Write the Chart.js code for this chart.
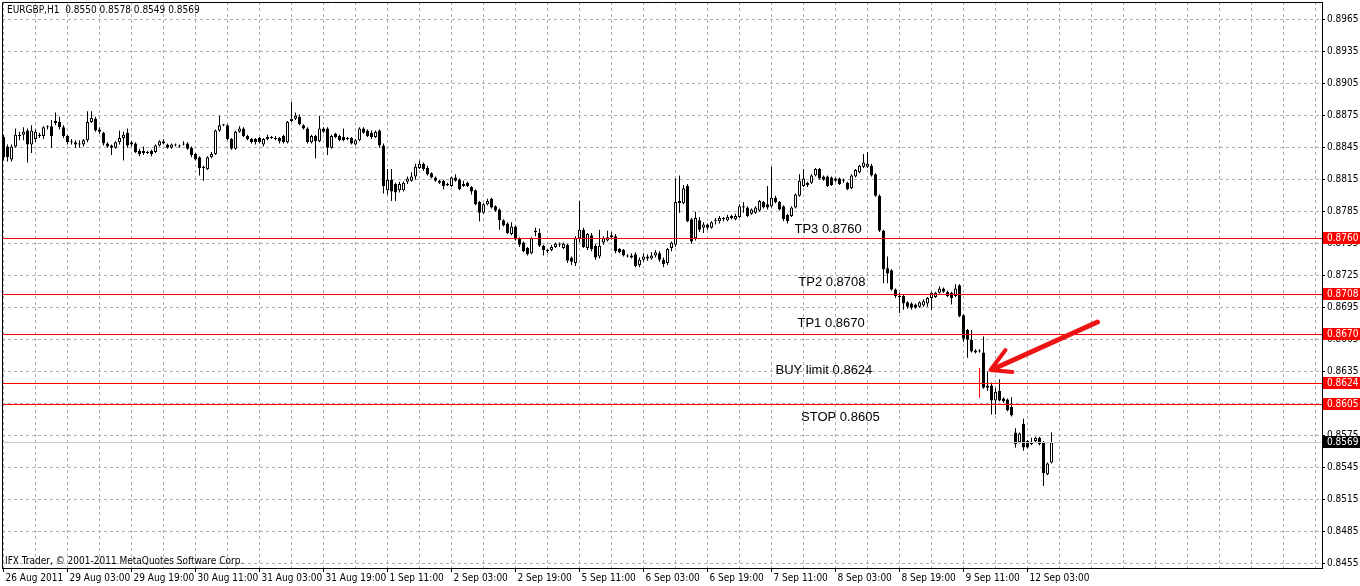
<!DOCTYPE html>
<html>
<head>
<meta charset="utf-8">
<title>EURGBP H1</title>
<script src="https://cdn.jsdelivr.net/npm/chart.js@4.4.0/dist/chart.umd.min.js"></script>
<style>
  html, body { margin: 0; padding: 0; background: #fff; }
  canvas { display: block; }
</style>
</head>
<body>
<canvas id="chart" width="1360" height="586"></canvas>
<script>
// header / footer texts
const symbolTitle = "EURGBP,H1  0.8550 0.8578 0.8549 0.8569";
const copyright = "IFX Trader, \u00a9 2001-2011 MetaQuotes Software Corp.";

// time axis labels, one every 16 bars starting at bar 0
const xLabels = ["26 Aug 2011","29 Aug 03:00","29 Aug 19:00","30 Aug 11:00","31 Aug 03:00","31 Aug 19:00",
  "1 Sep 11:00","2 Sep 03:00","2 Sep 19:00","5 Sep 11:00","6 Sep 03:00","6 Sep 19:00","7 Sep 11:00",
  "8 Sep 03:00","8 Sep 19:00","9 Sep 11:00","12 Sep 03:00"];

// price axis ticks
const priceTicks = [0.8965,0.8935,0.8905,0.8875,0.8845,0.8815,0.8785,0.8755,0.8725,0.8695,
  0.8665,0.8635,0.8605,0.8575,0.8545,0.8515,0.8485,0.8455];

// H1 candles
const opens = [
  .8855,.8846,.8834,.8846,.8856,.8857,.8861,.8848,.8853,.8856,
  .8856,.8864,.8865,.8868,.8869,.8864,.8856,.8851,.8850,.8848,
  .8848,.8852,.8869,.8872,.8862,.8859,.8849,.8847,.8845,.8850,
  .8854,.8859,.8850,.8849,.8842,.8842,.8841,.8842,.8841,.8847,
  .8851,.8848,.8845,.8848,.8847,.8848,.8849,.8845,.8839,.8836,
  .8826,.8825,.8836,.8839,.8861,.8866,.8866,.8853,.8844,.8860,
  .8863,.8856,.8853,.8853,.8854,.8848,.8853,.8854,.8854,.8854,
  .8856,.8850,.8870,.8872,.8874,.8866,.8863,.8850,.8856,.8851,
  .8863,.8863,.8845,.8858,.8856,.8855,.8854,.8854,.8848,.8852,
  .8863,.8861,.8859,.8855,.8861,.8847,.8805,.8815,.8811,.8805,
  .8805,.8813,.8814,.8818,.8826,.8830,.8826,.8821,.8817,.8814,
  .8814,.8811,.8809,.8817,.8815,.8811,.8812,.8808,.8805,.8794,
  .8784,.8792,.8797,.8790,.8787,.8777,.8774,.8764,.8771,.8760,
  .8756,.8751,.8746,.8766,.8765,.8753,.8749,.8749,.8752,.8754,
  .8751,.8754,.8742,.8737,.8760,.8768,.8751,.8763,.8753,.8743,
  .8756,.8758,.8761,.8762,.8750,.8749,.8744,.8744,.8745,.8735,
  .8740,.8743,.8741,.8744,.8746,.8740,.8737,.8751,.8754,.8795,
  .8793,.8809,.8778,.8760,.8777,.8770,.8773,.8770,.8776,.8776,
  .8778,.8777,.8781,.8778,.8780,.8789,.8789,.8783,.8784,.8786,
  .8794,.8792,.8790,.8798,.8794,.8790,.8782,.8781,.8789,.8800,
  .8809,.8812,.8812,.8819,.8825,.8818,.8818,.8817,.8816,.8816,
  .8815,.8812,.8807,.8818,.8822,.8827,.8827,.8828,.8820,.8800,
  .8767,.8732,.8730,.8712,.8705,.8706,.8700,.8699,.8698,.8696,
  .8697,.8699,.8704,.8705,.8709,.8713,.8710,.8709,.8706,.8716,
  .8688,.8674,.8665,.8655,.8655,.8653,.8620,.8622,.8608,.8617,
  .8610,.8609,.8602,.8578,.8569,.8586,.8570,.8569,.8570,.8573,
  .8569,.8539,.8550];
const highs = [
  .8857,.8848,.8848,.8863,.8860,.8864,.8863,.8866,.8862,.8859,
  .8865,.8866,.8871,.8878,.8874,.8866,.8857,.8853,.8852,.8852,
  .8853,.8879,.8879,.8874,.8864,.8860,.8850,.8848,.8851,.8861,
  .8860,.8863,.8851,.8850,.8844,.8846,.8842,.8843,.8848,.8852,
  .8853,.8849,.8849,.8849,.8848,.8851,.8850,.8846,.8840,.8837,
  .8828,.8837,.8841,.8862,.8875,.8867,.8867,.8854,.8861,.8865,
  .8864,.8857,.8854,.8854,.8855,.8854,.8857,.8856,.8856,.8855,
  .8857,.8870,.8888,.8878,.8876,.8867,.8864,.8857,.8857,.8875,
  .8864,.8864,.8857,.8859,.8857,.8863,.8855,.8855,.8853,.8864,
  .8864,.8862,.8861,.8861,.8862,.8849,.8825,.8825,.8812,.8813,
  .8813,.8818,.8822,.8830,.8833,.8831,.8828,.8822,.8818,.8815,
  .8815,.8812,.8818,.8820,.8816,.8814,.8813,.8809,.8806,.8795,
  .8793,.8797,.8798,.8791,.8788,.8778,.8775,.8775,.8772,.8761,
  .8757,.8752,.8761,.8770,.8769,.8754,.8750,.8754,.8756,.8756,
  .8756,.8755,.8743,.8762,.8795,.8770,.8765,.8765,.8755,.8768,
  .8762,.8767,.8766,.8764,.8751,.8750,.8745,.8746,.8747,.8742,
  .8746,.8745,.8747,.8749,.8748,.8742,.8751,.8757,.8816,.8819,
  .8810,.8811,.8779,.8785,.8780,.8775,.8774,.8776,.8779,.8781,
  .8780,.8782,.8782,.8783,.8792,.8794,.8790,.8788,.8790,.8796,
  .8795,.8809,.8827,.8800,.8795,.8791,.8783,.8790,.8802,.8820,
  .8825,.8813,.8820,.8826,.8826,.8819,.8819,.8818,.8817,.8817,
  .8816,.8813,.8820,.8825,.8829,.8839,.8841,.8830,.8821,.8801,
  .8768,.8743,.8731,.8713,.8709,.8707,.8701,.8700,.8699,.8701,
  .8703,.8705,.8710,.8710,.8715,.8714,.8711,.8710,.8717,.8717,
  .8689,.8675,.8674,.8656,.8656,.8668,.8635,.8625,.8620,.8628,
  .8611,.8610,.8611,.8582,.8578,.8591,.8571,.8573,.8574,.8574,
  .8570,.8550,.8578];
const lows = [
  .8833,.8832,.8832,.8845,.8852,.8852,.8831,.8840,.8850,.8854,
  .8853,.8862,.8845,.8866,.8862,.8854,.8848,.8848,.8845,.8845,
  .8846,.8850,.8868,.8860,.8858,.8847,.8845,.8838,.8844,.8848,
  .8833,.8845,.8846,.8840,.8837,.8838,.8839,.8837,.8840,.8846,
  .8848,.8844,.8844,.8846,.8845,.8847,.8843,.8836,.8833,.8819,
  .8814,.8824,.8835,.8838,.8860,.8865,.8852,.8843,.8843,.8859,
  .8855,.8852,.8849,.8848,.8849,.8846,.8852,.8853,.8852,.8849,
  .8849,.8849,.8869,.8871,.8866,.8862,.8849,.8849,.8835,.8850,
  .8859,.8838,.8844,.8854,.8851,.8851,.8852,.8848,.8847,.8851,
  .8858,.8855,.8853,.8854,.8845,.8802,.8801,.8795,.8795,.8803,
  .8804,.8811,.8813,.8815,.8825,.8823,.8819,.8816,.8813,.8811,
  .8806,.8809,.8808,.8813,.8805,.8808,.8808,.8801,.8791,.8776,
  .8783,.8791,.8788,.8785,.8768,.8771,.8764,.8763,.8758,.8752,
  .8747,.8744,.8745,.8762,.8752,.8744,.8746,.8748,.8751,.8752,
  .8750,.8737,.8735,.8734,.8756,.8751,.8749,.8748,.8740,.8741,
  .8754,.8757,.8759,.8746,.8746,.8743,.8742,.8741,.8733,.8733,
  .8738,.8739,.8740,.8742,.8738,.8733,.8735,.8748,.8752,.8784,
  .8792,.8775,.8755,.8758,.8766,.8765,.8768,.8769,.8773,.8774,
  .8776,.8776,.8778,.8777,.8779,.8784,.8780,.8782,.8783,.8785,
  .8788,.8787,.8789,.8793,.8786,.8776,.8774,.8780,.8788,.8799,
  .8808,.8808,.8811,.8818,.8815,.8814,.8808,.8809,.8813,.8810,
  .8812,.8805,.8806,.8817,.8821,.8826,.8826,.8818,.8799,.8766,
  .8718,.8718,.8711,.8704,.8690,.8693,.8694,.8693,.8694,.8695,
  .8696,.8696,.8693,.8704,.8708,.8709,.8705,.8698,.8705,.8686,
  .8663,.8648,.8653,.8652,.8653,.8619,.8617,.8595,.8595,.8607,
  .8606,.8598,.8593,.8564,.8568,.8561,.8563,.8566,.8569,.8566,
  .8528,.8538,.8549];
const closes = [
  .8836,.8836,.8846,.8857,.8857,.8860,.8848,.8861,.8860,.8857,
  .8864,.8865,.8856,.8870,.8864,.8856,.8850,.8850,.8848,.8849,
  .8852,.8869,.8873,.8861,.8860,.8849,.8846,.8845,.8850,.8854,
  .8857,.8847,.8848,.8841,.8839,.8840,.8840,.8839,.8847,.8851,
  .8849,.8845,.8848,.8847,.8846,.8849,.8844,.8838,.8834,.8826,
  .8827,.8836,.8839,.8861,.8866,.8867,.8853,.8844,.8860,.8863,
  .8856,.8853,.8850,.8850,.8850,.8853,.8855,.8855,.8853,.8851,
  .8850,.8869,.8872,.8875,.8867,.8863,.8850,.8856,.8851,.8863,
  .8860,.8845,.8856,.8855,.8852,.8852,.8853,.8849,.8852,.8863,
  .8859,.8856,.8855,.8860,.8847,.8809,.8815,.8804,.8803,.8811,
  .8812,.8816,.8818,.8827,.8830,.8825,.8820,.8817,.8814,.8812,
  .8809,.8810,.8817,.8814,.8806,.8809,.8809,.8804,.8792,.8784,
  .8792,.8795,.8789,.8786,.8777,.8772,.8765,.8771,.8759,.8754,
  .8748,.8745,.8760,.8767,.8753,.8749,.8748,.8752,.8755,.8755,
  .8755,.8739,.8738,.8760,.8768,.8752,.8764,.8750,.8742,.8753,
  .8760,.8761,.8763,.8748,.8747,.8744,.8743,.8742,.8734,.8740,
  .8743,.8741,.8744,.8747,.8740,.8736,.8750,.8756,.8794,.8793,
  .8807,.8776,.8757,.8779,.8768,.8773,.8770,.8775,.8777,.8779,
  .8779,.8780,.8779,.8781,.8790,.8790,.8781,.8787,.8789,.8795,
  .8789,.8789,.8798,.8794,.8787,.8778,.8776,.8789,.8801,.8814,
  .8816,.8810,.8819,.8825,.8816,.8815,.8809,.8810,.8814,.8811,
  .8814,.8806,.8819,.8824,.8828,.8831,.8830,.8819,.8800,.8767,
  .8731,.8727,.8712,.8706,.8706,.8699,.8696,.8695,.8695,.8700,
  .8701,.8704,.8709,.8709,.8713,.8710,.8706,.8704,.8713,.8687,
  .8666,.8665,.8654,.8653,.8654,.8620,.8622,.8608,.8616,.8608,
  .8607,.8599,.8594,.8567,.8577,.8564,.8564,.8567,.8573,.8567,
  .8540,.8549,.8569];

// horizontal order levels and their captions
const levelPrices = [0.8760, 0.8708, 0.8670, 0.8624, 0.8605];
const levelNames = ["TP3 0.8760", "TP2 0.8708", "TP1 0.8670", "BUY limit 0.8624", "STOP 0.8605"];
const levelTextBar = [197.75, 198.7, 198.5, 193.0, 199.4];
const levelTextPrice = [0.87685, 0.87184, 0.86800, 0.86360, 0.85919];
const bidPrice = 0.8569;

// hand drawn marks (bar index, price)
const arrowShaft = [[273.5, 0.86816], [247.2, 0.86370]];
const arrowHead = [[250.5, 0.86553], [246.75, 0.86366], [252.25, 0.86348]];
const markLine = [[244, 0.86385], [244, 0.86104]];

const gridColor = "#b0aeb4";
const axisFont = "'DejaVu Sans Condensed', 'Liberation Sans Narrow', 'Liberation Sans', sans-serif";
const axisSize = 10;
const noteFont = "13px 'Liberation Sans', Arial, sans-serif";

Chart.defaults.font.family = axisFont;
Chart.defaults.font.size = axisSize;
Chart.defaults.color = "#000";

const gridBars = [];
for (let b = 0; b <= 328; b += 8) gridBars.push(b);
function labelFor(v) {
  const k = v / 16;
  return Number.isInteger(k) && k < xLabels.length ? xLabels[k] : "";
}

const bodies = closes.map((c, i) => ({ x: i, y: [opens[i], c] }));
const wicks = closes.map((c, i) => ({ x: i, y: [lows[i], highs[i]] }));
const bodyColors = closes.map((c, i) => c >= opens[i] ? "#ffffff" : "#000000");

const overlay = {
  id: "overlay",
  afterDatasetsDraw(chart) {
    const { ctx, chartArea: a, scales: { x, y } } = chart;
    const py = v => Math.round(y.getPixelForValue(v)) + 0.5;
    ctx.save();
    ctx.beginPath();
    ctx.rect(a.left, a.top, a.right - a.left, a.bottom - a.top);
    ctx.clip();

    // bid line
    ctx.lineWidth = 1;
    ctx.strokeStyle = "#c2cbc2";
    ctx.beginPath();
    ctx.moveTo(a.left, py(bidPrice));
    ctx.lineTo(a.right, py(bidPrice));
    ctx.stroke();

    // order levels
    ctx.strokeStyle = "#ff0000";
    levelPrices.forEach(p => {
      ctx.beginPath();
      ctx.moveTo(a.left, py(p));
      ctx.lineTo(a.right, py(p));
      ctx.stroke();
    });

    // small red mark left of the arrow
    ctx.beginPath();
    ctx.moveTo(Math.round(x.getPixelForValue(markLine[0][0])) + 0.5, y.getPixelForValue(markLine[0][1]));
    ctx.lineTo(Math.round(x.getPixelForValue(markLine[1][0])) + 0.5, y.getPixelForValue(markLine[1][1]));
    ctx.stroke();

    // arrow
    ctx.strokeStyle = "#ee1414";
    ctx.lineCap = "round";
    ctx.lineJoin = "round";
    ctx.lineWidth = 5;
    ctx.beginPath();
    ctx.moveTo(x.getPixelForValue(arrowShaft[0][0]), y.getPixelForValue(arrowShaft[0][1]));
    ctx.lineTo(x.getPixelForValue(arrowShaft[1][0]), y.getPixelForValue(arrowShaft[1][1]));
    ctx.stroke();
    ctx.lineWidth = 4;
    ctx.beginPath();
    arrowHead.forEach((pt, k) => {
      const px = x.getPixelForValue(pt[0]), pyy = y.getPixelForValue(pt[1]);
      if (k === 0) ctx.moveTo(px, pyy); else ctx.lineTo(px, pyy);
    });
    ctx.stroke();

    // captions
    ctx.fillStyle = "#000";
    ctx.textBaseline = "middle";
    ctx.textAlign = "left";
    ctx.font = noteFont;
    levelNames.forEach((t, k) => {
      ctx.fillText(t, x.getPixelForValue(levelTextBar[k]), y.getPixelForValue(levelTextPrice[k]));
    });

    ctx.font = axisSize + "px " + axisFont;
    ctx.fillText(symbolTitle, a.left + 5, a.top + 8);
    ctx.fillText(copyright, a.left + 3, a.bottom - 7);
    ctx.restore();
  },
  afterDraw(chart) {
    const { ctx, chartArea: a, scales: { y }, width } = chart;
    ctx.save();
    // frame top/left
    ctx.strokeStyle = "#000";
    ctx.lineWidth = 1;
    ctx.beginPath();
    ctx.moveTo(a.left + 0.5, a.bottom);
    ctx.lineTo(a.left + 0.5, a.top + 0.5);
    ctx.lineTo(a.right, a.top + 0.5);
    ctx.stroke();

    // price boxes on the axis
    ctx.font = axisSize + "px " + axisFont;
    ctx.textBaseline = "middle";
    ctx.textAlign = "left";
    const box = (p, bg) => {
      const yy = Math.round(y.getPixelForValue(p));
      ctx.fillStyle = bg;
      ctx.fillRect(a.right + 1, yy - 6, width - a.right - 1, 12);
      ctx.fillStyle = "#fff";
      ctx.fillText(p.toFixed(4), a.right + 5, yy);
    };
    levelPrices.forEach(p => box(p, "#ff0000"));
    box(bidPrice, "#000000");
    ctx.restore();
  }
};

new Chart(document.getElementById("chart"), {
  type: "bar",
  data: {
    datasets: [
      {
        label: "body", data: bodies, backgroundColor: bodyColors, borderColor: "#000",
        borderWidth: 1, borderSkipped: false, barThickness: 3, grouped: false,
        inflateAmount: 0, order: 1
      },
      {
        label: "wick", data: wicks, backgroundColor: "#000", borderWidth: 0,
        barThickness: 1, grouped: false, inflateAmount: 0, order: 2
      }
    ]
  },
  options: {
    responsive: false,
    animation: false,
    devicePixelRatio: 1,
    layout: { padding: { top: 2, left: 2, right: 0, bottom: 0 } },
    plugins: { legend: { display: false }, tooltip: { enabled: false } },
    scales: {
      x: {
        type: "linear", min: -0.375, max: 329.625, offset: false,
        afterBuildTicks: s => { s.ticks = gridBars.map(v => ({ value: v })); },
        afterFit: s => { s.height = 18; s.paddingLeft = 0; s.paddingRight = 0; },
        grid: {
          color: gridColor, lineWidth: 1, offset: false, tickLength: 4,
          tickColor: c => (c.tick && labelFor(c.tick.value)) ? "#000" : "rgba(0,0,0,0)",
          tickBorderDash: [1, 0]
        },
        border: { display: true, color: "#000", width: 1, dash: [3, 3] },
        ticks: {
          autoSkip: false, maxRotation: 0, minRotation: 0, align: "start",
          labelOffset: 2, padding: 0, color: "#000", callback: v => labelFor(v)
        }
      },
      y: {
        type: "linear", position: "right", min: 0.845104, max: 0.89815,
        afterBuildTicks: s => { s.ticks = priceTicks.map(v => ({ value: v })); },
        afterFit: s => { s.width = 38; s.paddingTop = 0; s.paddingBottom = 0; },
        grid: { color: gridColor, lineWidth: 1, tickLength: 3, tickColor: "#000", tickBorderDash: [1, 0] },
        border: { display: true, color: "#000", width: 1, dash: [3, 3] },
        ticks: { padding: 2, color: "#000", callback: v => v.toFixed(4) }
      }
    }
  },
  plugins: [overlay]
});
</script>
</body>
</html>
